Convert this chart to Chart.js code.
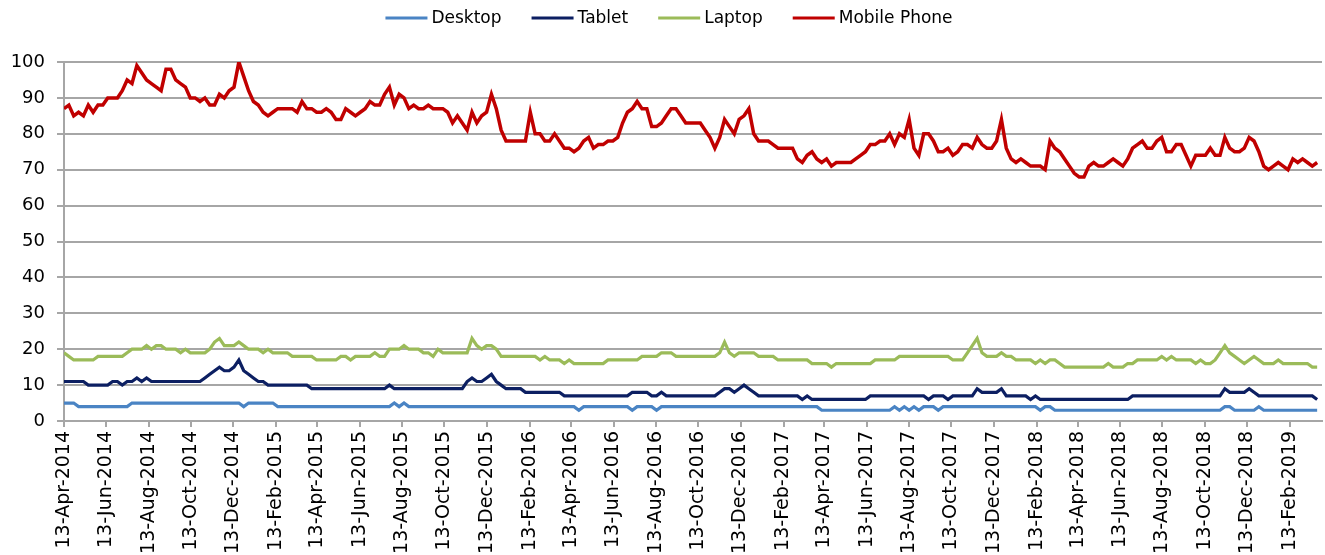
<!DOCTYPE html>
<html><head><meta charset="utf-8">
<script src="https://cdn.jsdelivr.net/npm/chart.js@4.4.1/dist/chart.umd.min.js"></script>
<style>html,body{margin:0;padding:0;background:#fff}#wrap{width:1325px;height:555px}</style>
</head><body><div id="wrap"><canvas id="c" width="1325" height="555"></canvas></div>
<script>
const startDate = '13-Apr-2014';
const tickLabels = ['13-Apr-2014','13-Jun-2014','13-Aug-2014','13-Oct-2014','13-Dec-2014','13-Feb-2015','13-Apr-2015','13-Jun-2015','13-Aug-2015','13-Oct-2015','13-Dec-2015','13-Feb-2016','13-Apr-2016','13-Jun-2016','13-Aug-2016','13-Oct-2016','13-Dec-2016','13-Feb-2017','13-Apr-2017','13-Jun-2017','13-Aug-2017','13-Oct-2017','13-Dec-2017','13-Feb-2018','13-Apr-2018','13-Jun-2018','13-Aug-2018','13-Oct-2018','13-Dec-2018','13-Feb-2019'];
const seriesNames = ['Desktop','Tablet','Laptop','Mobile Phone'];
const seriesColors = ['#4a84c4','#0c1f62','#9bbb59','#c00000'];

const desktop = [
5,5,5,4,4,4,4,4,4,4, 4,4,4,4,5,5,5,5,5,5, 5,5,5,5,5,5,5,5,5,5, 5,5,5,5,5,5,5,4,5,5,
5,5,5,5,4,4,4,4,4,4, 4,4,4,4,4,4,4,4,4,4, 4,4,4,4,4,4,4,4,5,4, 5,4,4,4,4,4,4,4,4,4,
4,4,4,4,4,4,4,4,4,4, 4,4,4,4,4,4,4,4,4,4, 4,4,4,4,4,4,3,4,4,4, 4,4,4,4,4,4,4,3,4,4,
4,4,3,4,4,4,4,4,4,4, 4,4,4,4,4,4,4,4,4,4, 4,4,4,4,4,4,4,4,4,4, 4,4,4,4,4,4,3,3,3,3,
3,3,3,3,3,3,3,3,3,3, 3,4,3,4,3,4,3,4,4,4, 3,4,4,4,4,4,4,4,4,4, 4,4,4,4,4,4,4,4,4,4,
4,3,4,4,3,3,3,3,3,3, 3,3,3,3,3,3,3,3,3,3, 3,3,3,3,3,3,3,3,3,3, 3,3,3,3,3,3,3,3,3,4,
4,3,3,3,3,3,4,3,3,3, 3,3,3,3,3,3,3,3,3];

const tablet = [
11,11,11,11,11,10,10,10,10,10, 11,11,10,11,11,12,11,12,11,11, 11,11,11,11,11,11,11,11,11,12, 13,14,15,14,14,15,17,14,13,12,
11,11,10,10,10,10,10,10,10,10, 10,9,9,9,9,9,9,9,9,9, 9,9,9,9,9,9,9,10,9,9, 9,9,9,9,9,9,9,9,9,9,
9,9,9,11,12,11,11,12,13,11, 10,9,9,9,9,8,8,8,8,8, 8,8,8,7,7,7,7,7,7,7, 7,7,7,7,7,7,7,8,8,8,
8,7,7,8,7,7,7,7,7,7, 7,7,7,7,7,8,9,9,8,9, 10,9,8,7,7,7,7,7,7,7, 7,7,6,7,6,6,6,6,6,6,
6,6,6,6,6,6,7,7,7,7, 7,7,7,7,7,7,7,7,6,7, 7,7,6,7,7,7,7,7,9,8, 8,8,8,9,7,7,7,7,7,6,
7,6,6,6,6,6,6,6,6,6, 6,6,6,6,6,6,6,6,6,6, 7,7,7,7,7,7,7,7,7,7, 7,7,7,7,7,7,7,7,7,9,
8,8,8,8,9,8,7,7,7,7, 7,7,7,7,7,7,7,7,6];

const laptop = [
19,18,17,17,17,17,17,18,18,18, 18,18,18,19,20,20,20,21,20,21, 21,20,20,20,19,20,19,19,19,19, 20,22,23,21,21,21,22,21,20,20,
20,19,20,19,19,19,19,18,18,18, 18,18,17,17,17,17,17,18,18,17, 18,18,18,18,19,18,18,20,20,20, 21,20,20,20,19,19,18,20,19,19,
19,19,19,19,23,21,20,21,21,20, 18,18,18,18,18,18,18,18,17,18, 17,17,17,16,17,16,16,16,16,16, 16,16,17,17,17,17,17,17,17,18,
18,18,18,19,19,19,18,18,18,18, 18,18,18,18,18,19,22,19,18,19, 19,19,19,18,18,18,18,17,17,17, 17,17,17,17,16,16,16,16,15,16,
16,16,16,16,16,16,16,17,17,17, 17,17,18,18,18,18,18,18,18,18, 18,18,18,17,17,17,19,21,23,19, 18,18,18,19,18,18,17,17,17,17,
16,17,16,17,17,16,15,15,15,15, 15,15,15,15,15,16,15,15,15,16, 16,17,17,17,17,17,18,17,18,17, 17,17,17,16,17,16,16,17,19,21,
19,18,17,16,17,18,17,16,16,16, 17,16,16,16,16,16,16,15,15];

const mobile = [
87,88,85,86,85,88,86,88,88,90, 90,90,92,95,94,99,97,95,94,93, 92,98,98,95,94,93,90,90,89,90, 88,88,91,90,92,93,100,96,92,89,
88,86,85,86,87,87,87,87,86,89, 87,87,86,86,87,86,84,84,87,86, 85,86,87,89,88,88,91,93,88,91, 90,87,88,87,87,88,87,87,87,86,
83,85,83,81,86,83,85,86,91,87, 81,78,78,78,78,78,86,80,80,78, 78,80,78,76,76,75,76,78,79,76, 77,77,78,78,79,83,86,87,89,87,
87,82,82,83,85,87,87,85,83,83, 83,83,81,79,76,79,84,82,80,84, 85,87,80,78,78,78,77,76,76,76, 76,73,72,74,75,73,72,73,71,72,
72,72,72,73,74,75,77,77,78,78, 80,77,80,79,84,76,74,80,80,78, 75,75,76,74,75,77,77,76,79,77, 76,76,78,84,76,73,72,73,72,71,
71,71,70,78,76,75,73,71,69,68, 68,71,72,71,71,72,73,72,71,73, 76,77,78,76,76,78,79,75,75,77, 77,74,71,74,74,74,76,74,74,79,
76,75,75,76,79,78,75,71,70,71, 72,71,70,73,72,73,72,71,72];

const MONTHS = {Jan:0,Feb:1,Mar:2,Apr:3,May:4,Jun:5,Jul:6,Aug:7,Sep:8,Oct:9,Nov:10,Dec:11};
function toUTC(s){const p=s.split('-');return Date.UTC(+p[2],MONTHS[p[1]],+p[0]);}
const t0 = toUTC(startDate);
const tickDays = tickLabels.map(s => (toUTC(s)-t0)/864e5);
const toPts = arr => arr.map((v,i)=>({x:i*7,y:v}));
const seriesValues = [desktop, tablet, laptop, mobile];

const xlLegend = {id:'xlLegend', afterDraw(chart){
  const c = chart.ctx; c.save();
  c.font = '17px "DejaVu Sans"'; c.textBaseline = 'middle'; c.textAlign = 'left';
  const lineLen = 42, gapText = 4, gapItem = 30, y = 18;
  const items = chart.data.datasets.map(d => ({t:d.label, col:d.borderColor, w:c.measureText(d.label).width}));
  const total = items.reduce((s,it)=>s+lineLen+gapText+it.w,0) + gapItem*(items.length-1);
  let x = 669 - total/2;
  items.forEach(it => {
    c.strokeStyle = it.col; c.lineWidth = 3; c.beginPath(); c.moveTo(x,y); c.lineTo(x+lineLen,y); c.stroke();
    c.fillStyle = '#000'; c.fillText(it.t, x+lineLen+gapText, y+1);
    x += lineLen + gapText + it.w + gapItem;
  });
  c.restore();
}};

new Chart(document.getElementById('c').getContext('2d'), {
  type: 'line',
  data: {
    datasets: seriesNames.map((n,k) => ({
      label: n, data: toPts(seriesValues[k]),
      borderColor: seriesColors[k], backgroundColor: seriesColors[k],
      borderWidth: k===3 ? 3.5 : 3.2, pointRadius: 0, tension: 0, fill: false,
      order: 3-k
    }))
  },
  options: {
    responsive: false, animation: false, devicePixelRatio: 1,
    layout: {padding: {top: 62, right: 3, left: 0, bottom: 0}},
    plugins: {legend: {display: false}, tooltip: {enabled: false}},
    scales: {
      x: {
        type: 'linear', min: 0, max: 1813,
        afterBuildTicks: s => { s.ticks = tickDays.map(v => ({value: v})); },
        afterFit: s => { s.height = 134; },
        grid: {drawOnChartArea: false, drawTicks: true, tickLength: 6, color: '#a6a6a6', lineWidth: 2},
        border: {color: '#a6a6a6', width: 2},
        ticks: {autoSkip: false, maxRotation: 90, minRotation: 90, padding: 4, color: '#000',
                font: {family: 'DejaVu Sans', size: 19},
                callback: (v, i) => tickLabels[i]}
      },
      y: {
        min: 0, max: 100,
        afterFit: s => { s.width = 64; },
        ticks: {stepSize: 10, padding: 12, color: '#000', font: {family: 'DejaVu Sans', size: 18}},
        grid: {color: '#a6a6a6', lineWidth: 2, tickLength: 7},
        border: {color: '#a6a6a6', width: 2}
      }
    }
  },
  plugins: [xlLegend]
});
</script>
</body></html>
